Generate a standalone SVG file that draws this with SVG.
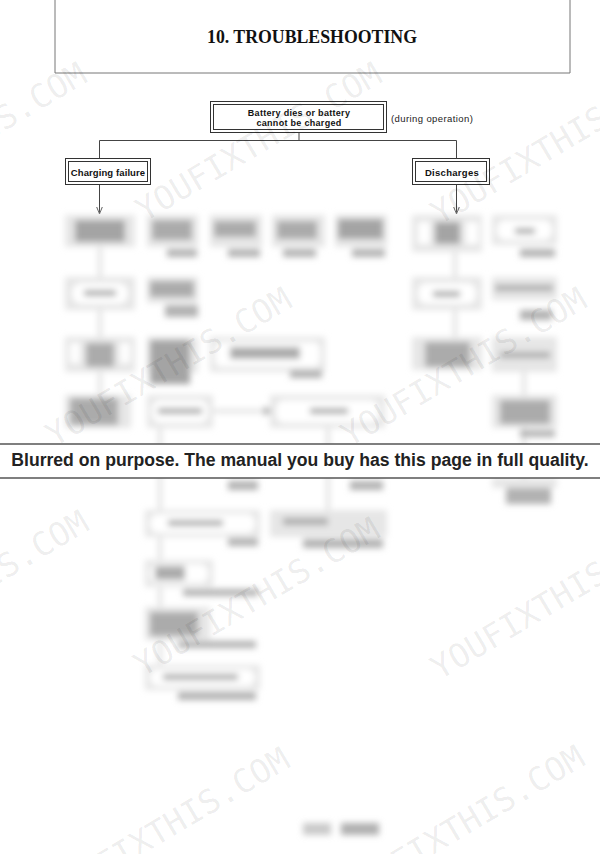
<svg xmlns="http://www.w3.org/2000/svg" width="600" height="854" viewBox="0 0 600 854">
<defs>
<style>
.frame{fill:none;stroke:#333;stroke-width:1}
.lbl{font-family:"Liberation Sans",Arial,sans-serif;font-weight:bold;font-size:9px;letter-spacing:0.3px;fill:#111;text-anchor:middle}
.conn{fill:none;stroke:#444;stroke-width:1}
.bx{fill:#e6e6e6}
.bw{fill:#fff}
.bt{fill:#ababab}
.bd{fill:#a4a4a4}
.bl{fill:#b2b2b2}
.bc{stroke:#c6c6c6;stroke-width:2;fill:none}
.wm{font-family:"DejaVu Sans Mono","Liberation Mono",monospace;font-size:33px;fill:#000;fill-opacity:0.08;text-anchor:end}
</style>
<marker id="arr" viewBox="0 0 8 8" refX="8" refY="4" markerWidth="7" markerHeight="7" markerUnits="userSpaceOnUse" orient="auto">
<path d="M0,0.8 L8,4 L0,7.2" fill="none" stroke="#444" stroke-width="1"/>
</marker>
<filter id="blur" x="-5%" y="-5%" width="110%" height="110%">
<feGaussianBlur stdDeviation="3"/>
</filter>
</defs>
<rect width="600" height="854" fill="#fff"/>

<g id="header">
<path d="M55,0 V73 H570 V0" fill="none" stroke="#777" stroke-width="1"/>
<text x="312" y="43" text-anchor="middle" textLength="210" lengthAdjust="spacingAndGlyphs" font-family="'Liberation Serif','Times New Roman',serif" font-weight="bold" font-size="19" fill="#111">10. TROUBLESHOOTING</text>
</g>

<g id="node-root">
<rect class="frame" x="210.5" y="101.5" width="176" height="31"/>
<rect class="frame" x="213.5" y="104.5" width="170" height="25"/>
<text class="lbl" x="299" y="115.5">Battery dies or battery</text>
<text class="lbl" x="299" y="126">cannot be charged</text>
</g>
<g id="note-during">
<text x="391" y="122" font-family="'Liberation Sans',Arial,sans-serif" font-size="9.5" letter-spacing="0.4" fill="#222">(during operation)</text>
</g>
<g id="node-charging">
<rect class="frame" x="65.5" y="158.5" width="85" height="26"/>
<rect class="frame" x="68.5" y="161.5" width="79" height="20"/>
<text class="lbl" x="108" y="175.5" style="font-size:9.5px;letter-spacing:0.1px">Charging failure</text>
</g>
<g id="node-discharges">
<rect class="frame" x="412.5" y="158.5" width="77" height="26"/>
<rect class="frame" x="415.5" y="161.5" width="71" height="20"/>
<text class="lbl" x="452" y="175.5" style="font-size:9.5px">Discharges</text>
</g>

<g id="connectors">
<path class="conn" d="M299,133 V140.5 M99.5,140.5 H456.5 M99.5,140.5 V158.5 M456.5,140.5 V158.5"/>
<path class="conn" d="M99.5,185 V214" marker-end="url(#arr)"/>
<path class="conn" d="M456.5,185 V214" marker-end="url(#arr)"/>
</g>

<g id="blurred" filter="url(#blur)">
<rect class="bx" x="65" y="215" width="70" height="32"/>
<rect class="bd" x="75" y="220" width="50" height="22"/>
<rect class="bx" x="65" y="277" width="70" height="33"/>
<rect class="bw" x="72" y="283" width="56" height="21" rx="9"/>
<rect class="bt" x="84" y="290" width="32" height="6"/>
<rect class="bx" x="65" y="337" width="70" height="35"/>
<rect class="bw" x="70" y="343" width="10" height="20"/>
<rect class="bw" x="120" y="343" width="10" height="20"/>
<rect class="bt" x="86" y="343" width="28" height="24"/>
<rect class="bx" x="65" y="395" width="66" height="33"/>
<rect class="bt" x="70" y="398" width="48" height="27"/>
<path class="bc" d="M100,247 V277 M100,310 V337 M100,372 V395"/>
<rect class="bx" x="147" y="215" width="51" height="32"/>
<rect class="bt" x="152" y="220" width="40" height="20"/>
<rect class="bl" x="167" y="249" width="30" height="8"/>
<rect class="bx" x="210" y="215" width="52" height="32"/>
<rect class="bt" x="214" y="221" width="42" height="16"/>
<rect class="bl" x="228" y="249" width="32" height="8"/>
<rect class="bx" x="272" y="215" width="53" height="32"/>
<rect class="bt" x="277" y="221" width="40" height="18"/>
<rect class="bl" x="283" y="249" width="33" height="8"/>
<rect class="bx" x="335" y="215" width="52" height="32"/>
<rect class="bd" x="338" y="219" width="45" height="20"/>
<rect class="bl" x="352" y="249" width="33" height="8"/>
<rect class="bx" x="147" y="277" width="51" height="26"/>
<rect class="bt" x="150" y="281" width="44" height="16"/>
<rect class="bl" x="165" y="305" width="33" height="12"/>
<rect class="bx" x="147" y="337" width="51" height="36"/>
<rect class="bd" x="150" y="340" width="40" height="44"/>
<rect class="bx" x="210" y="337" width="115" height="35"/>
<rect class="bw" x="215" y="342" width="105" height="25" rx="6"/>
<rect class="bt" x="230" y="347" width="70" height="12"/>
<rect class="bl" x="290" y="370" width="32" height="8"/>
<rect class="bx" x="147" y="395" width="66" height="33"/>
<rect class="bw" x="152" y="400" width="56" height="23" rx="8"/>
<rect class="bt" x="158" y="408" width="44" height="6"/>
<rect class="bx" x="270" y="395" width="115" height="33"/>
<rect class="bw" x="276" y="400" width="103" height="23" rx="8"/>
<rect class="bt" x="310" y="408" width="38" height="6"/>
<path class="bc" d="M213,411 H266 M160,428 V510 M328,428 V510"/>
<path d="M264,406 L272,411 L264,416 Z" fill="#a8a8a8"/>
<rect class="bl" x="228" y="481" width="30" height="9"/>
<rect class="bl" x="350" y="481" width="33" height="9"/>
<rect class="bx" x="145" y="510" width="115" height="27"/>
<rect class="bw" x="150" y="514" width="105" height="19" rx="8"/>
<rect class="bt" x="168" y="520" width="55" height="6"/>
<rect class="bl" x="228" y="538" width="30" height="8"/>
<rect class="bx" x="270" y="510" width="117" height="27"/>
<rect class="bt" x="283" y="518" width="45" height="7"/>
<rect class="bl" x="303" y="539" width="80" height="9"/>
<rect class="bx" x="145" y="560" width="68" height="27"/>
<rect class="bw" x="150" y="564" width="58" height="19" rx="7"/>
<rect class="bt" x="155" y="566" width="30" height="14"/>
<rect class="bl" x="183" y="589" width="75" height="7"/>
<rect class="bx" x="145" y="607" width="65" height="33"/>
<rect class="bt" x="150" y="612" width="48" height="24"/>
<rect class="bl" x="178" y="641" width="78" height="7"/>
<rect class="bx" x="145" y="665" width="115" height="25"/>
<rect class="bw" x="150" y="669" width="105" height="17" rx="8"/>
<rect class="bt" x="163" y="674" width="75" height="6"/>
<rect class="bl" x="178" y="692" width="78" height="8"/>
<path class="bc" d="M160,537 V560 M160,587 V607 M160,640 V665 M328,490 V510"/>
<rect class="bx" x="412" y="215" width="70" height="37"/>
<rect class="bw" x="418" y="222" width="12" height="22"/>
<rect class="bw" x="466" y="222" width="12" height="22"/>
<rect class="bd" x="435" y="222" width="25" height="22"/>
<rect class="bx" x="412" y="277" width="70" height="33"/>
<rect class="bw" x="418" y="283" width="58" height="21" rx="8"/>
<rect class="bt" x="433" y="291" width="27" height="6"/>
<rect class="bx" x="412" y="337" width="70" height="33"/>
<rect class="bt" x="425" y="342" width="45" height="25"/>
<path class="bc" d="M455,252 V277 M455,310 V337 M524,372 V395 M524,428 V478"/>
<rect class="bx" x="492" y="215" width="65" height="30"/>
<rect class="bw" x="497" y="220" width="55" height="20" rx="8"/>
<rect class="bt" x="515" y="228" width="20" height="6"/>
<rect class="bl" x="520" y="249" width="35" height="8"/>
<rect class="bx" x="492" y="277" width="65" height="23"/>
<rect class="bt" x="495" y="285" width="58" height="6"/>
<rect class="bl" x="520" y="310" width="32" height="10"/>
<rect class="bx" x="492" y="337" width="65" height="35"/>
<rect class="bt" x="500" y="352" width="50" height="6"/>
<rect class="bx" x="492" y="395" width="65" height="33"/>
<rect class="bt" x="500" y="400" width="50" height="24"/>
<rect class="bl" x="520" y="430" width="35" height="7"/>
<rect class="bx" x="492" y="478" width="65" height="10"/>
<rect class="bl" x="506" y="488" width="45" height="16"/>
<rect fill="#cacaca" x="303" y="823" width="28" height="12"/>
<rect fill="#b0b0b0" x="341" y="823" width="38" height="12"/>
</g>

<g id="watermarks">
<text class="wm" transform="translate(89,81) rotate(-30.6)">YOUFIXTHIS.COM</text>
<text class="wm" transform="translate(384,81) rotate(-30.6)">YOUFIXTHIS.COM</text>
<text class="wm" transform="translate(679,84) rotate(-30.6)">YOUFIXTHIS.COM</text>
<text class="wm" transform="translate(294,306) rotate(-30.6)">YOUFIXTHIS.COM</text>
<text class="wm" transform="translate(589,306) rotate(-30.6)">YOUFIXTHIS.COM</text>
<text class="wm" transform="translate(91,529) rotate(-30.6)">YOUFIXTHIS.COM</text>
<text class="wm" transform="translate(382,536) rotate(-30.6)">YOUFIXTHIS.COM</text>
<text class="wm" transform="translate(679,539) rotate(-30.6)">YOUFIXTHIS.COM</text>
<text class="wm" transform="translate(292,766) rotate(-30.6)">YOUFIXTHIS.COM</text>
<text class="wm" transform="translate(587,764) rotate(-30.6)">YOUFIXTHIS.COM</text>
</g>

<g id="banner">
<rect x="0" y="444" width="600" height="34" fill="#fff" fill-opacity="0.95"/>
<path d="M0,444 H600 M0,478 H600" stroke="#555" stroke-width="1.5"/>
<text x="300" y="466" text-anchor="middle" font-family="'Liberation Sans',Arial,sans-serif" font-weight="bold" font-size="17.6" fill="#222">Blurred on purpose. The manual you buy has this page in full quality.</text>
</g>
</svg>
